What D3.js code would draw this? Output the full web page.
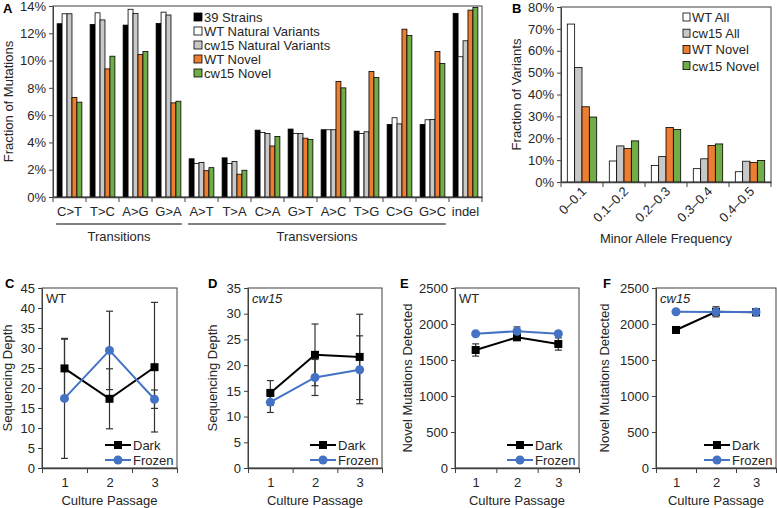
<!DOCTYPE html>
<html><head><meta charset="utf-8">
<script src="https://cdn.jsdelivr.net/npm/d3@7"></script>
<style>
body{margin:0;background:#fff;}
svg{font-family:"Liberation Sans",Arial,sans-serif;}
</style></head>
<body>
<svg id="chart" width="777" height="508"></svg>
<script>
// ---------- Panel A data ----------
const catsA = ["C>T","T>C","A>G","G>A","A>T","T>A","C>A","G>T","A>C","T>G","C>G","G>C","indel"];
const seriesA = ["39 Strains","WT Natural Variants","cw15 Natural Variants","WT Novel","cw15 Novel"];
const strains39   = [12.7,12.65,12.6,12.72,2.8,2.87,4.9,4.98,4.93,4.83,5.32,5.32,13.46];
const wtNatural   = [13.43,13.5,13.76,13.55,2.45,2.45,4.73,4.66,4.93,4.66,5.81,5.66,10.28];
const cw15Natural = [13.43,12.98,13.46,13.34,2.53,2.6,4.66,4.66,4.93,4.78,5.36,5.68,11.45];
const wtNovelA    = [7.3,9.39,10.44,6.9,1.93,1.67,3.74,4.31,8.47,9.2,12.3,10.67,13.7];
const cw15NovelA  = [6.95,10.32,10.66,7.02,2.15,1.96,4.44,4.22,8.0,8.76,11.84,9.79,13.9];
const yTicksA = [0,2,4,6,8,10,12,14];

// ---------- Panel B data ----------
const catsB = ["0–0.1","0.1–0.2","0.2–0.3","0.3–0.4","0.4–0.5"];
const seriesB = ["WT All","cw15 All","WT Novel","cw15 Novel"];
const wtAll      = [72.2,9.6,7.5,6.1,4.7];
const cw15All    = [52.3,16.5,11.6,10.6,9.5];
const wtNovelB   = [34.4,15.3,24.9,16.7,8.9];
const cw15NovelB = [29.7,18.8,24.0,17.4,9.8];
const yTicksB = [0,10,20,30,40,50,60,70,80];

// ---------- Panels C-F data ----------
const passages = [1,2,3];
const darkDepthWT = [24.9,17.3,25.2],  darkDepthWTErr = [7.3,7.5,16.2];
const frozDepthWT = [17.4,29.4,17.2],  frozDepthWTErr = [15.0,9.8,2.3];
const darkDepthCw = [14.6,22.0,21.6],  darkDepthCwErr = [2.4,6.0,8.3];
const frozDepthCw = [12.8,17.6,19.1],  frozDepthCwErr = [2.0,3.5,6.6];
const darkMutWT = [1639,1815,1722],    darkMutWTErr = [85,35,85];
const frozMutWT = [1865,1900,1865],    frozMutWTErr = [20,60,20];
const darkMutCw = [1917,2170,2162],    darkMutCwErr = [35,70,45];
const frozMutCw = [2170,2168,2165],    frozMutCwErr = [15,30,20];

const svg = d3.select("#chart");
const FS = 13;
const TXT = "#262626";
const colA = ["#000000","#ffffff","#c8c8c8","#ed7d31","#70ad47"];
const colB = ["#ffffff","#c8c8c8","#ed7d31","#70ad47"];
const BLUE = "#4472c4";

function styleAxis(g){
  g.selectAll("path,line").attr("stroke","#404040").attr("stroke-width",1);
  g.selectAll("text").attr("font-size",FS).attr("fill",TXT).attr("font-family","Liberation Sans, Arial, sans-serif");
}

// ================= Panel A =================
(function(){
  const L=53,R=482,T=6,B=197;
  const data=[strains39,wtNatural,cw15Natural,wtNovelA,cw15NovelA];
  const x0=d3.scaleBand().domain(catsA).range([L,R]).paddingInner(0.25).paddingOuter(0.125);
  const x1=d3.scaleBand().domain(seriesA).range([0,x0.bandwidth()]);
  const y=d3.scaleLinear().domain([0,14]).range([B,T]);
  const g=svg.append("g");
  g.append("rect").attr("x",L).attr("y",T).attr("width",R-L).attr("height",B-T).attr("fill","none").attr("stroke","#404040");
  catsA.forEach((c,i)=>{
    seriesA.forEach((s,j)=>{
      g.append("rect").attr("x",x0(c)+x1(s)).attr("y",y(data[j][i])).attr("width",x1.bandwidth())
       .attr("height",y(0)-y(data[j][i])).attr("fill",colA[j]).attr("stroke","#000").attr("stroke-width",0.8);
    });
  });
  const ya=g.append("g").attr("transform",`translate(${L},0)`).call(d3.axisLeft(y).tickValues(yTicksA).tickSize(4).tickSizeOuter(0).tickFormat(d=>d+"%"));
  styleAxis(ya);
  const xa=g.append("g").attr("transform",`translate(0,${B})`).call(d3.axisBottom(x0).tickSize(0).tickPadding(10));
  styleAxis(xa);
  xa.select(".domain").attr("stroke-width",1.5);
  const half=x0.step()*x0.paddingInner()/2;
  const bnds=catsA.map(c=>x0(c)-half).concat([x0(catsA[catsA.length-1])+x0.bandwidth()+half]);
  g.selectAll(".bt").data(bnds).enter().append("line").attr("x1",d=>d).attr("x2",d=>d).attr("y1",B).attr("y2",B+5).attr("stroke","#404040");
  const groups=[{name:"Transitions",from:"C>T",to:"G>A"},{name:"Transversions",from:"A>T",to:"G>C"}];
  groups.forEach(gr=>{
    const xa1=x0(gr.from)-1, xa2=x0(gr.to)+x0.bandwidth()+1;
    g.append("line").attr("x1",xa1).attr("x2",xa2).attr("y1",224).attr("y2",224).attr("stroke","#000").attr("stroke-width",1);
    g.append("text").attr("x",(xa1+xa2)/2).attr("y",241).attr("text-anchor","middle").attr("font-size",FS).attr("fill",TXT).text(gr.name);
  });
  g.append("text").attr("transform",`translate(13,${(T+B)/2}) rotate(-90)`).attr("text-anchor","middle").attr("font-size",FS).attr("fill",TXT).text("Fraction of Mutations");
  g.append("text").attr("x",3).attr("y",13).attr("font-size",13).attr("font-weight","bold").text("A");
  seriesA.forEach((s,j)=>{
    const yy=17+j*14;
    g.append("rect").attr("x",194).attr("y",yy-4).attr("width",8).attr("height",8).attr("fill",colA[j]).attr("stroke","#000").attr("stroke-width",0.8);
    g.append("text").attr("x",204).attr("y",yy+4.5).attr("font-size",FS).attr("fill",TXT).text(s);
  });
})();

// ================= Panel B =================
(function(){
  const L=561,R=771,T=7,B=182;
  const data=[wtAll,cw15All,wtNovelB,cw15NovelB];
  const x0=d3.scaleBand().domain(catsB).range([L,R]).paddingInner(0.3).paddingOuter(0.15);
  const x1=d3.scaleBand().domain(seriesB).range([0,x0.bandwidth()]);
  const y=d3.scaleLinear().domain([0,80]).range([B,T]);
  const g=svg.append("g");
  g.append("rect").attr("x",L).attr("y",T).attr("width",R-L).attr("height",B-T).attr("fill","none").attr("stroke","#404040");
  catsB.forEach((c,i)=>{
    seriesB.forEach((s,j)=>{
      g.append("rect").attr("x",x0(c)+x1(s)).attr("y",y(data[j][i])).attr("width",x1.bandwidth())
       .attr("height",y(0)-y(data[j][i])).attr("fill",colB[j]).attr("stroke","#000").attr("stroke-width",0.8);
    });
  });
  const ya=g.append("g").attr("transform",`translate(${L},0)`).call(d3.axisLeft(y).tickValues(yTicksB).tickSize(4).tickSizeOuter(0).tickFormat(d=>d+"%"));
  styleAxis(ya);
  const xa=g.append("g").attr("transform",`translate(0,${B})`).call(d3.axisBottom(x0).tickSize(0).tickFormat(""));
  styleAxis(xa);
  xa.select(".domain").attr("stroke-width",1.5);
  const half=x0.step()*x0.paddingInner()/2;
  const bnds=catsB.map(c=>x0(c)-half).concat([x0(catsB[catsB.length-1])+x0.bandwidth()+half]);
  g.selectAll(".bt").data(bnds).enter().append("line").attr("x1",d=>d).attr("x2",d=>d).attr("y1",B).attr("y2",B+5).attr("stroke","#404040");
  catsB.forEach(c=>{
    g.append("text").attr("transform",`translate(${x0(c)+x0.bandwidth()/2+2},${B+7}) rotate(-45)`)
     .attr("text-anchor","end").attr("dy","0.35em").attr("font-size",FS).attr("fill",TXT).text(c);
  });
  g.append("text").attr("x",(L+R)/2).attr("y",243).attr("text-anchor","middle").attr("font-size",FS).attr("fill",TXT).text("Minor Allele Frequency");
  g.append("text").attr("transform",`translate(521,${(T+B)/2}) rotate(-90)`).attr("text-anchor","middle").attr("font-size",FS).attr("fill",TXT).text("Fraction of Variants");
  g.append("text").attr("x",512).attr("y",13).attr("font-size",13).attr("font-weight","bold").text("B");
  seriesB.forEach((s,j)=>{
    const yy=17+j*16.2;
    g.append("rect").attr("x",683).attr("y",yy-4).attr("width",7).attr("height",8).attr("fill",colB[j]).attr("stroke","#000").attr("stroke-width",0.8);
    g.append("text").attr("x",692).attr("y",yy+5).attr("font-size",FS).attr("fill",TXT).text(s);
  });
})();

// ================= Line panels =================
function linePanel(o){
  const T=288,B=468;
  const g=svg.append("g");
  const x=d3.scaleLinear().domain([0.5,3.5]).range([o.L,o.R]);
  const y=d3.scaleLinear().domain([0,o.ymax]).range([B,T]);
  g.append("rect").attr("x",o.L).attr("y",T).attr("width",o.R-o.L).attr("height",B-T).attr("fill","none").attr("stroke","#404040");
  const ya=g.append("g").attr("transform",`translate(${o.L},0)`).call(d3.axisLeft(y).tickValues(d3.range(0,o.ymax+1e-9,o.step)).tickSize(4).tickSizeOuter(0).tickFormat(d3.format("d")));
  styleAxis(ya);
  const xa=g.append("g").attr("transform",`translate(0,${B})`).call(d3.axisBottom(x).tickValues(passages).tickSize(0).tickPadding(10).tickFormat(d3.format("d")));
  styleAxis(xa);
  xa.select(".domain").attr("stroke-width",1.5);
  const xb=g.append("g").attr("transform",`translate(0,${B})`).call(d3.axisBottom(x).tickValues([0.5,1.5,2.5,3.5]).tickSize(5).tickSizeOuter(0).tickFormat(""));
  styleAxis(xb); xb.select(".domain").remove();
  g.append("text").attr("x",(o.L+o.R)/2).attr("y",505).attr("text-anchor","middle").attr("font-size",FS).attr("fill",TXT).text("Culture Passage");
  g.append("text").attr("transform",`translate(${o.ylx},${(T+B)/2}) rotate(-90)`).attr("text-anchor","middle").attr("font-size",FS).attr("fill",TXT).text(o.ylabel);
  g.append("text").attr("x",o.lx).attr("y",288).attr("font-size",13).attr("font-weight","bold").text(o.letter);
  g.append("text").attr("x",o.L+4).attr("y",303).attr("font-size",FS).attr("fill",TXT).attr("font-style",o.italic?"italic":"normal").text(o.tag);
  const series=[{v:o.dark,e:o.darkErr,c:"#000",m:"sq"},{v:o.froz,e:o.frozErr,c:BLUE,m:"ci"}];
  const line=d3.line().x((d,i)=>x(passages[i])).y(d=>y(d));
  series.forEach(s=>{
    g.append("path").attr("d",line(s.v)).attr("fill","none").attr("stroke",s.c).attr("stroke-width",2);
  });
  series.forEach(s=>{
    s.v.forEach((v,i)=>{
      const cx=x(passages[i]);
      g.append("line").attr("x1",cx).attr("x2",cx).attr("y1",y(v-s.e[i])).attr("y2",y(v+s.e[i])).attr("stroke","#333").attr("stroke-width",1.2);
      [v-s.e[i],v+s.e[i]].forEach(w=>g.append("line").attr("x1",cx-3.5).attr("x2",cx+3.5).attr("y1",y(w)).attr("y2",y(w)).attr("stroke","#333").attr("stroke-width",1.2));
    });
  });
  series.forEach(s=>{
    s.v.forEach((v,i)=>{
      const cx=x(passages[i]);
      if(s.m==="sq") g.append("rect").attr("x",cx-4).attr("y",y(v)-4).attr("width",8).attr("height",8).attr("fill",s.c);
      else g.append("circle").attr("cx",cx).attr("cy",y(v)).attr("r",4.5).attr("fill",s.c);
    });
  });
  [{n:"Dark",c:"#000",m:"sq",yy:445},{n:"Frozen",c:BLUE,m:"ci",yy:460}].forEach(l=>{
    const x1=o.R-72,x2=o.R-46,xm=(x1+x2)/2;
    g.append("line").attr("x1",x1).attr("x2",x2).attr("y1",l.yy).attr("y2",l.yy).attr("stroke",l.c).attr("stroke-width",2);
    if(l.m==="sq") g.append("rect").attr("x",xm-4).attr("y",l.yy-4).attr("width",8).attr("height",8).attr("fill",l.c);
    else g.append("circle").attr("cx",xm).attr("cy",l.yy).attr("r",4.5).attr("fill",l.c);
    g.append("text").attr("x",x2+2).attr("y",l.yy+4.5).attr("font-size",FS).attr("fill",TXT).text(l.n);
  });
}
linePanel({L:42,R:177,ymax:45,step:5,ylabel:"Sequencing Depth",ylx:12,letter:"C",lx:5,tag:"WT",italic:false,
  dark:darkDepthWT,darkErr:darkDepthWTErr,froz:frozDepthWT,frozErr:frozDepthWTErr});
linePanel({L:248,R:382,ymax:35,step:5,ylabel:"Sequencing Depth",ylx:217,letter:"D",lx:208,tag:"cw15",italic:true,
  dark:darkDepthCw,darkErr:darkDepthCwErr,froz:frozDepthCw,frozErr:frozDepthCwErr});
linePanel({L:455,R:579,ymax:2500,step:500,ylabel:"Novel Mutations Detected",ylx:412,letter:"E",lx:400,tag:"WT",italic:false,
  dark:darkMutWT,darkErr:darkMutWTErr,froz:frozMutWT,frozErr:frozMutWTErr});
linePanel({L:656,R:776,ymax:2500,step:500,ylabel:"Novel Mutations Detected",ylx:609,letter:"F",lx:603,tag:"cw15",italic:true,
  dark:darkMutCw,darkErr:darkMutCwErr,froz:frozMutCw,frozErr:frozMutCwErr});
</script>
</body></html>
